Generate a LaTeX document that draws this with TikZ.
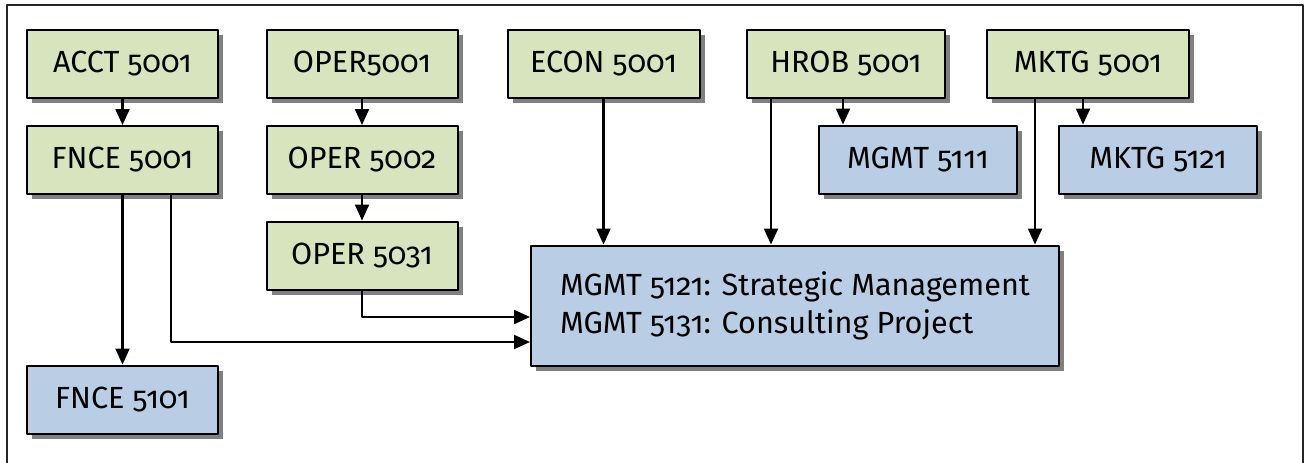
\documentclass[tikz,border=0pt]{standalone}
\usepackage{fontspec}
\setmainfont{Fira Sans}[Numbers=OldStyle]
\usetikzlibrary{arrows.meta,shadows}

\definecolor{corefill}{HTML}{D7E4BD}
\definecolor{advfill}{HTML}{B9CDE5}
\definecolor{shadowgray}{HTML}{808080}

\begin{document}
\begin{tikzpicture}[x=0.5pt,y=-0.5pt,line cap=round,line join=round,
    box/.style={draw=black,line width=1pt,inner sep=0pt,
        minimum width=95.5pt,minimum height=34pt,
        font=\fontsize{15.3}{19}\selectfont,
        drop shadow={shadow xshift=2.5pt,shadow yshift=-2.5pt,
            fill=shadowgray,opacity=1}},
    core/.style={box,fill=corefill},
    adv/.style={box,fill=advfill},
    arr/.style={line width=1.1pt,-{Triangle[length=8pt,width=7pt]}}]

    \useasboundingbox (0,0) rectangle (1306,462);

    % frame (open at the bottom)
    \draw[line width=1pt,black!85] (7,470) -- (7,5) -- (1303,5) -- (1303,470);

    % first-year courses
    \node[core] (acct) at (122.5,63.5) {ACCT 5001};
    \node[core] (fnce) at (122.5,160) {FNCE 5001};
    \node[core] (opera) at (362,63.5) {OPER5001};
    \node[core] (operb) at (362,160) {OPER 5002};
    \node[core] (operc) at (362,255.5) {OPER 5031};
    \node[core,minimum width=96pt] (econ) at (603.5,63.5) {ECON 5001};
    \node[core,minimum width=99pt] (hrob) at (846,63.5) {HROB 5001};
    \node[core,minimum width=101pt] (mktga) at (1088,63.5) {MKTG 5001};

    % follow-on courses
    \node[adv] (fnceb) at (122.5,399.5) {FNCE 5101};
    \node[adv,minimum width=99pt] (mgmt) at (918,159.5) {MGMT 5111};
    \node[adv,minimum width=99pt] (mktgb) at (1158,159.5) {MKTG 5121};
    \node[adv,minimum width=264pt,minimum height=60pt,align=left] (capstone) at (795,305.5)
        {MGMT 5121: Strategic Management\\MGMT 5131: Consulting Project};

    % prerequisites
    \draw[arr] (acct) -- (fnce);
    \draw[arr] (fnce) -- (fnceb);
    \draw[arr] (opera) -- (operb);
    \draw[arr] (operb) -- (operc);
    \draw[arr] ([xshift=24.25pt]fnce.south) |- ([yshift=-18.25pt]capstone.west);
    \draw[arr] (operc) |- ([yshift=-5.75pt]capstone.west);
    \draw[arr] (econ) -- (econ |- capstone.north);
    \draw[arr] ([xshift=-37.5pt]hrob.south) -- ([xshift=-37.5pt]hrob.south |- capstone.north);
    \draw[arr] ([xshift=-37.5pt]mgmt.north |- hrob.south) -- ([xshift=-37.5pt]mgmt.north);
    \draw[arr] ([xshift=-26.5pt]mktga.south) -- ([xshift=-26.5pt]mktga.south |- capstone.north);
    \draw[arr] ([xshift=-37.5pt]mktgb.north |- mktga.south) -- ([xshift=-37.5pt]mktgb.north);

\end{tikzpicture}
\end{document}
